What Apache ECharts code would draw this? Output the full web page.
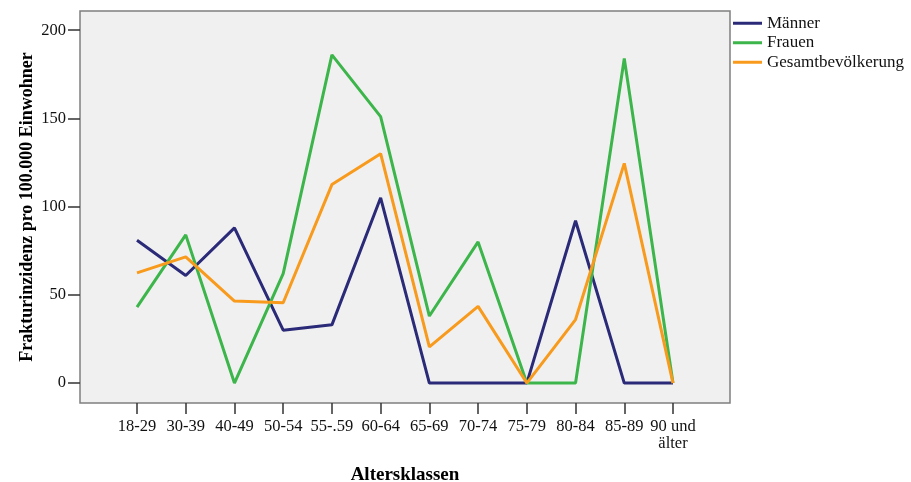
<!DOCTYPE html>
<html>
<head>
<meta charset="utf-8">
<script src="https://cdn.jsdelivr.net/npm/echarts@6/dist/echarts.min.js"></script>
<style>html,body{margin:0;padding:0;background:#fff;}#c{width:911px;height:482px;}</style>
</head>
<body>
<div id="c"></div>
<script>
const categories = ['18-29','30-39','40-49','50-54','55-.59','60-64','65-69','70-74','75-79','80-84','85-89','90 und\nälter'];
const maenner = [81, 61, 88, 30, 33, 105, 0, 0, 0, 92, 0, 0];
const frauen = [43, 84, 0, 62, 186, 151, 38, 80, 0, 0, 184, 0];
const gesamt = [62.5, 71.5, 46.5, 45.5, 112.5, 130, 20.5, 43.5, 0, 36, 124.5, 0];
const yTicks = [0, 50, 100, 150, 200];

const FONT = '"Liberation Serif", "DejaVu Serif", serif';
const chart = echarts.init(document.getElementById('c'), null, {renderer: 'canvas'});
const yMin = -11.3, yMax = 210.9;
chart.setOption({
  animation: false,
  backgroundColor: '#ffffff',
  textStyle: {fontFamily: FONT},
  grid: [
    {left: 80, right: 181, top: 11, bottom: 79, show: true, backgroundColor: '#f0f0f0', borderColor: '#7f7f7f', borderWidth: 1.5, containLabel: false, outerBoundsMode: 'none'},
    {left: 137, right: 238, top: 11, bottom: 79, containLabel: false, outerBoundsMode: 'none'}
  ],
  legend: {
    orient: 'vertical', left: 733, top: 14.5, padding: 0,
    icon: 'rect', itemWidth: 29, itemHeight: 3, itemGap: 2,
    textStyle: {fontFamily: FONT, fontSize: 17, lineHeight: 17.5, color: '#111'},
    data: ['Männer', 'Frauen', 'Gesamtbevölkerung']
  },
  xAxis: [
    {gridIndex: 0, type: 'value', min: 0, max: 1,
     axisLine: {show: false}, axisTick: {show: false}, axisLabel: {show: false}, splitLine: {show: false},
     name: 'Altersklassen', nameLocation: 'middle', nameGap: 63, nameMoveOverlap: false,
     nameTextStyle: {fontFamily: FONT, fontSize: 19, fontWeight: 'bold', color: '#000'}},
    {gridIndex: 1, type: 'category', data: categories, boundaryGap: false,
     axisLine: {show: false, onZero: false},
     axisTick: {show: true, length: 11, lineStyle: {color: '#333', width: 1.5}},
     axisLabel: {interval: 0, fontFamily: FONT, fontSize: 16.5, lineHeight: 17, margin: 15, color: '#111'},
     splitLine: {show: false}}
  ],
  yAxis: [
    {gridIndex: 0, type: 'value', min: yMin, max: yMax,
     axisLine: {show: false},
     axisTick: {show: true, length: 12, customValues: yTicks, lineStyle: {color: '#333', width: 1.5}},
     axisLabel: {customValues: yTicks, fontFamily: FONT, fontSize: 16.5, margin: 14, color: '#111'},
     splitLine: {show: false},
     name: 'Frakturinzidenz pro 100.000 Einwohner', nameLocation: 'middle', nameGap: 44, nameRotate: 90,
     nameMoveOverlap: false,
     nameTextStyle: {fontFamily: FONT, fontSize: 18, fontWeight: 'bold', color: '#000'}},
    {gridIndex: 1, type: 'value', min: yMin, max: yMax, show: false, splitLine: {show: false}}
  ],
  series: [
    {name: 'Männer', type: 'line', data: maenner, xAxisIndex: 1, yAxisIndex: 1, symbol: 'none',
     lineStyle: {color: '#2a2a78', width: 3}, itemStyle: {color: '#2a2a78'}},
    {name: 'Frauen', type: 'line', data: frauen, xAxisIndex: 1, yAxisIndex: 1, symbol: 'none',
     lineStyle: {color: '#3cb54a', width: 3}, itemStyle: {color: '#3cb54a'}},
    {name: 'Gesamtbevölkerung', type: 'line', data: gesamt, xAxisIndex: 1, yAxisIndex: 1, symbol: 'none',
     lineStyle: {color: '#f89a1c', width: 3}, itemStyle: {color: '#f89a1c'}}
  ]
});
</script>
</body>
</html>
